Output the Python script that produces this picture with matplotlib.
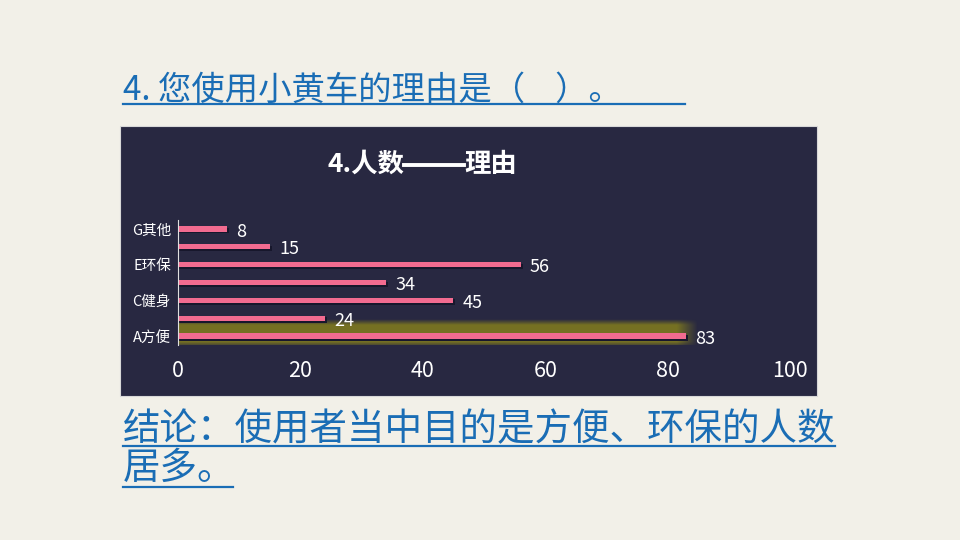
import numpy as np
import matplotlib.pyplot as plt
from matplotlib.patches import Rectangle
from matplotlib.lines import Line2D

plt.rcParams['font.family'] = ['Noto Sans CJK SC', 'DejaVu Sans']

# 数据
labels = ['A方便', '', 'C健身', '', 'E环保', '', 'G其他']
values = [83, 24, 45, 34, 56, 15, 8]
x_ticks = [0, 20, 40, 60, 80, 100]

fig = plt.figure(figsize=(9.6, 5.4), dpi=100)
fig.patch.set_facecolor('#f2f0e8')

# 图表背景面板
fig.add_artist(Rectangle((120 / 960, 1 - 396 / 540), 697 / 960, 270 / 540,
                         transform=fig.transFigure, facecolor='#282841',
                         edgecolor='#d8d8d8', linewidth=0.8, zorder=0))

# 标题与结论
blue = '#1a6db5'
fig.text(123 / 960, 1 - 90 / 540, '4. 您使用小黄车的理由是（    ）。', color=blue,
         fontsize=24, va='center', ha='left')
fig.add_artist(Line2D([123 / 960, 685 / 960], [1 - 104 / 540] * 2, color=blue, lw=1.6))
fig.text(123 / 960, 1 - 430 / 540, '结论：使用者当中目的是方便、环保的人数', color=blue,
         fontsize=27, va='center', ha='left')
fig.add_artist(Line2D([123 / 960, 835 / 960], [1 - 446 / 540] * 2, color=blue, lw=1.6))
fig.text(123 / 960, 1 - 468 / 540, '居多。', color=blue,
         fontsize=27, va='center', ha='left')
fig.add_artist(Line2D([123 / 960, 233 / 960], [1 - 487 / 540] * 2, color=blue, lw=1.6))

# 图表标题（破折号用线段画）
fig.text(404 / 960, 1 - 164 / 540, '4.人数', color='white', fontsize=19,
         fontweight='bold', ha='right', va='center')
fig.add_artist(Line2D([404 / 960, 464 / 960], [1 - 165 / 540] * 2, color='white', lw=2.8))
fig.text(464 / 960, 1 - 164 / 540, '理由', color='white', fontsize=19,
         fontweight='bold', ha='left', va='center')

ax = fig.add_axes([178 / 960, 1 - 345 / 540, 612 / 960, 125 / 540])
ax.set_facecolor('none')
y = list(range(len(values)))

# A方便 的发光效果
gy = np.linspace(-1, 1, 60)[:, None]
gx = np.linspace(0, 1, 200)[None, :]
alpha_y = np.clip((1 - np.abs(gy)) / 0.4, 0, 1)
alpha_x = np.clip((1 - gx) / 0.04, 0, 1)
glow = np.zeros((60, 200, 4))
glow[..., 0] = 0.48
glow[..., 1] = 0.46
glow[..., 2] = 0.13
glow[..., 3] = alpha_y * alpha_x * 0.95
ax.imshow(glow, extent=(0, values[0] + 2, y[0] - 0.65, y[0] + 0.95),
          aspect='auto', interpolation='bilinear', zorder=1)

# 阴影和条形
ax.barh([v - 0.1 for v in y], [v + 0.3 for v in values], height=0.3,
        color='#17172c', linewidth=0, zorder=2)
ax.barh(y, values, height=0.3, color='#f26b90', linewidth=0, zorder=3)

for yi, v in zip(y, values):
    ax.text(v + 1.5, yi - 0.15, str(v), color='white', fontsize=13,
            va='center', ha='left', zorder=4)

ax.set_xlim(0, 100)
ax.set_ylim(-0.5, 6.5)
ax.set_xticks(x_ticks)
ax.set_xticklabels([str(t) for t in x_ticks])
ax.set_yticks(y)
ax.set_yticklabels(labels)
ax.tick_params(axis='x', colors='white', labelsize=15.5, length=0, pad=11)
ax.tick_params(axis='y', colors='white', labelsize=10.5, length=0, pad=5)
for s in ['top', 'right', 'bottom']:
    ax.spines[s].set_visible(False)
ax.spines['left'].set_color('#e0e0e0')
ax.spines['left'].set_linewidth(0.8)
ax.spines['left'].set_zorder(5)

plt.savefig('out.png', dpi=100, facecolor=fig.get_facecolor())
